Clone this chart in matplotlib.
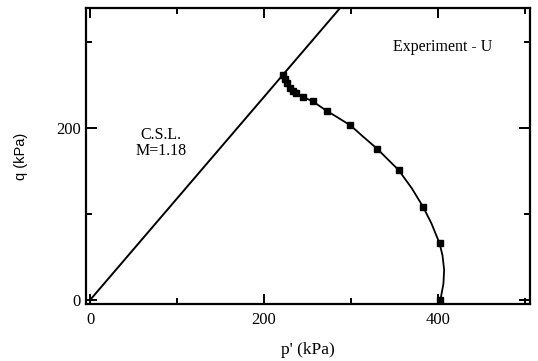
import numpy as np
import matplotlib.pyplot as plt

plt.rcParams['font.family'] = ['Liberation Serif', 'DejaVu Serif']

# undrained stress path, measured points (p', q) in kPa
p_meas = [221.5, 224, 227, 230, 233, 237, 245, 256, 272, 299.5, 330, 355, 383, 402, 403]
q_meas = [262, 257, 252, 247, 243, 241, 236, 231, 220, 203, 176, 151, 108.5, 66, 0]

# traced path of the fitted curve through the points
p_curve = [221.5, 224, 227, 230, 233, 237, 245, 256, 272, 283.5, 299.5, 314, 330, 341,
           355, 370, 383, 392.7, 402, 405.4, 407.3, 406.5, 403]
q_curve = [262, 257, 252, 247, 243, 241, 236, 231, 220, 213, 203, 190, 176, 165,
           151, 130, 108.5, 89, 66, 52, 35, 19, 0]

# critical state line slope
M = 1.18
p_csl = np.array([0, 320])

fig = plt.figure(figsize=(5.38, 3.61), dpi=100)
ax = fig.add_axes([0.160, 0.158, 0.825, 0.820])

ax.plot(p_csl, M * p_csl, color='black', linewidth=1.4)
ax.plot(p_curve, q_curve, color='black', linewidth=1.3)
ax.plot(p_meas, q_meas, linestyle='none', marker='s', markersize=4.2, color='black')

ax.text(81.6, 182.6, "C.S.L.\nM=1.18", ha='center', va='center', fontsize=11.5, linespacing=0.95)
ax.text(405, 294.5, "Experiment - U", ha='center', va='center', fontsize=11.5)

ax.set_xlim(-4.6, 506)
ax.set_ylim(-4.6, 339.5)
ax.set_xticks([0, 200, 400])
ax.set_xticks([100, 300, 500], minor=True)
ax.set_yticks([0, 200])
ax.set_yticks([100, 300], minor=True)

ax.tick_params(which='both', direction='in', top=True, right=True, labelsize=12, width=1.4)
ax.tick_params(axis='x', which='major', length=7, pad=6)
ax.tick_params(axis='y', which='major', length=8, pad=4)
ax.tick_params(which='minor', length=4.5)
for s in ax.spines.values():
    s.set_linewidth(1.6)

ax.set_xlabel("p' (kPa)", fontsize=12.5, labelpad=10)
ax.set_ylabel("q (kPa)", fontsize=10.5, family=['Liberation Sans', 'DejaVu Sans'], labelpad=20)

fig.savefig("out.png", dpi=100)
